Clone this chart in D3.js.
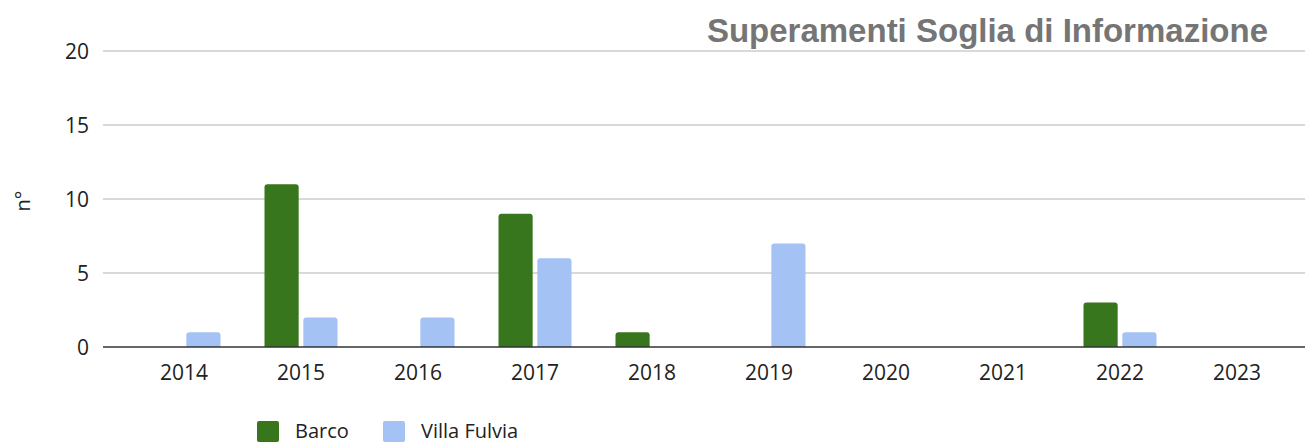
<!DOCTYPE html>
<html>
<head>
<meta charset="utf-8">
<script src="https://cdn.jsdelivr.net/npm/d3@7"></script>
<style>
  html, body { margin: 0; padding: 0; background: #fff; }
  svg { display: block; }
</style>
</head>
<body>
<svg id="chart" width="1305" height="444"></svg>
<script>
// Yearly counts of information-threshold exceedances per station
const years = ["2014", "2015", "2016", "2017", "2018", "2019", "2020", "2021", "2022", "2023"];
const barco = [0, 11, 0, 9, 1, 0, 0, 0, 3, 0];
const villaFulvia = [1, 2, 2, 6, 0, 7, 0, 0, 1, 0];
const seriesNames = ["Barco", "Villa Fulvia"];
const seriesColors = ["#38761d", "#a4c2f4"];
const yTicks = [0, 5, 10, 15, 20];

const svg = d3.select("#chart");
const gridLeft = 103, gridRight = 1305;
const yTop = 51, yBottom = 347;

const x = d3.scaleBand().domain(years).range([125.5, 1295.5]).paddingInner(0).paddingOuter(0);
const groupWidth = 73;
const xs = d3.scaleBand().domain(seriesNames).range([0, groupWidth]).paddingInner(0.12);
const y = d3.scaleLinear().domain([0, 20]).range([yBottom, yTop]);

const tickFont = "'Open Sans', 'Noto Sans', sans-serif";
const tickColor = "#222";

// gridlines
svg.append("g").selectAll("line").data(yTicks.filter(t => t !== 0)).join("line")
  .attr("x1", gridLeft).attr("x2", gridRight)
  .attr("y1", d => y(d)).attr("y2", d => y(d))
  .attr("stroke", "#cccccc").attr("stroke-width", 1.3);

// y axis labels
const yAxis = d3.axisLeft(y).tickValues(yTicks).tickSize(0).tickPadding(0);
const yg = svg.append("g").attr("transform", `translate(${gridLeft - 14},0)`).call(yAxis);
yg.select(".domain").remove();
yg.selectAll("text")
  .attr("font-family", tickFont).attr("font-size", 21).attr("fill", tickColor).attr("dy", "0.36em");

// y axis title
svg.append("text")
  .attr("transform", `translate(30,${(yTop + yBottom) / 2 + 2}) rotate(-90)`)
  .attr("text-anchor", "middle")
  .attr("font-family", tickFont).attr("font-size", 20).attr("fill", tickColor)
  .text("n°");

// bars with rounded top corners
function barPath(x0, w, yv) {
  const top = y(yv), bot = y(0);
  const h = bot - top;
  if (h <= 0) return "";
  const r = Math.min(3, h / 2, w / 2);
  return `M${x0},${bot} L${x0},${top + r} Q${x0},${top} ${x0 + r},${top} L${x0 + w - r},${top} Q${x0 + w},${top} ${x0 + w},${top + r} L${x0 + w},${bot} Z`;
}

const rows = years.map((yr, i) => ({ year: yr, vals: [barco[i], villaFulvia[i]] }));
const groups = svg.append("g").selectAll("g").data(rows).join("g")
  .attr("transform", d => `translate(${x(d.year) + (x.bandwidth() - groupWidth) / 2},0)`);
groups.selectAll("path").data(d => d.vals.map((v, k) => ({ v, k }))).join("path")
  .attr("d", d => barPath(xs(seriesNames[d.k]), xs.bandwidth(), d.v))
  .attr("fill", d => seriesColors[d.k]);

// baseline
svg.append("line")
  .attr("x1", gridLeft).attr("x2", gridRight)
  .attr("y1", y(0)).attr("y2", y(0))
  .attr("stroke", "#333").attr("stroke-width", 1.6);

// x axis labels
const xAxis = d3.axisBottom(x).tickSize(0).tickPadding(0);
const xg = svg.append("g").attr("transform", `translate(0,${yBottom + 25})`).call(xAxis);
xg.select(".domain").remove();
xg.selectAll("text")
  .attr("font-family", tickFont).attr("font-size", 21).attr("fill", tickColor).attr("dy", "0.36em");

// title
svg.append("text")
  .attr("x", 1268).attr("y", 42)
  .attr("text-anchor", "end")
  .attr("font-family", "'Liberation Sans', Arial, sans-serif")
  .attr("font-weight", "bold").attr("font-size", 33).attr("fill", "#757575")
  .text("Superamenti Soglia di Informazione");

// legend
const legendX = [257, 383];
const lg = svg.append("g").selectAll("g").data(seriesNames).join("g")
  .attr("transform", (d, i) => `translate(${legendX[i]},421)`);
lg.append("rect").attr("width", 22).attr("height", 21).attr("rx", 2)
  .attr("fill", (d, i) => seriesColors[i]);
lg.append("text").attr("x", 38).attr("y", 17)
  .attr("font-family", tickFont).attr("font-size", 20).attr("fill", tickColor)
  .text(d => d);
</script>
</body>
</html>
